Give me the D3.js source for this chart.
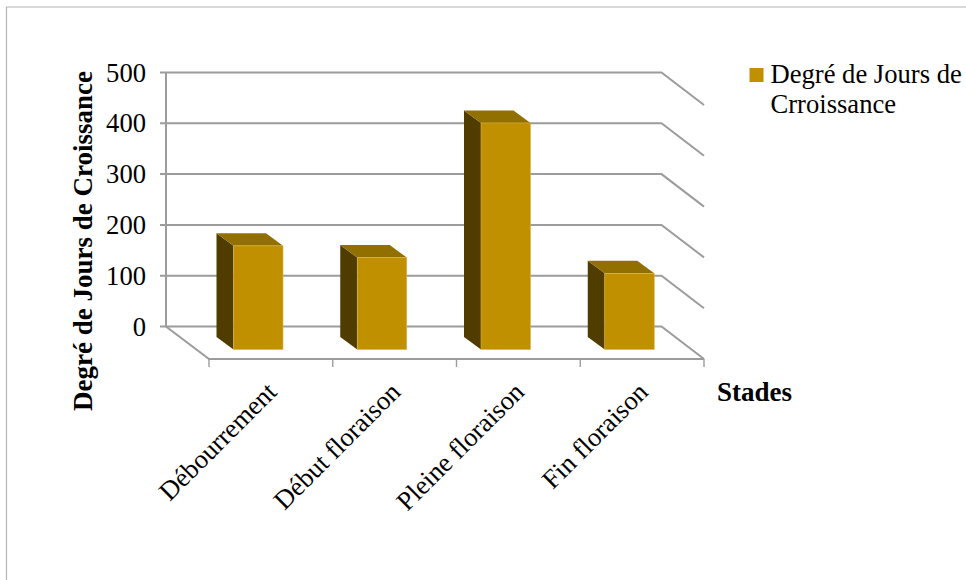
<!DOCTYPE html>
<html><head><meta charset="utf-8">
<script src="https://cdn.jsdelivr.net/npm/d3@7"></script>
<style>html,body{margin:0;padding:0;background:#fff}svg{display:block}text{font-family:"Liberation Serif",serif;fill:#000}</style>
</head><body><svg id="c" width="966" height="580"></svg>
<script>
const categories = ["Débourrement","Début floraison","Pleine floraison","Fin floraison"];
const values = [204, 181, 446, 150];
const yTicks = [0,100,200,300,400,500];
const seriesName = ["Degré de Jours de","Crroissance"];
const yTitle = "Degré de Jours de Croissance";
const xTitle = "Stades";

const svg = d3.select("#c");
const GRID="#9c9c9c", FRONT="#c09000", TOP="#927000", SIDE="#513c00", EDGE="#dcb44a";
const FS=26.6;
const depthX=42.5, depthY=32.5;      // full floor depth
const barDX=17, barDY=12.5;          // bar depth
const baseY=349.5;                   // front edge of bars on screen
const y=d3.scaleLinear().domain([0,500]).range([326.5,72.5]);
const x=d3.scaleBand().domain(categories).range([209,704]).paddingInner(0.6).paddingOuter(0.3).align(0.33);
const h=v=>y(0)-y(v);

// frame
svg.append("path").attr("d","M6.5,580V7H966").attr("fill","none").attr("stroke","#b4b4b4").attr("stroke-width",1.2);

// wall
const gridG=svg.append("g").attr("fill","none").attr("stroke",GRID).attr("stroke-width",2);
gridG.selectAll("path.g").data(yTicks).join("path").attr("class","g")
 .attr("d",d=>`M160,${y(d)}H${x.range()[1]-depthX}L${x.range()[1]},${y(d)+depthY}`);
gridG.append("path").attr("d",`M166,${y(500)}V${y(0)}L209,${y(0)+depthY}H${x.range()[1]}`);
// category ticks
const tickX=categories.map((c,i)=>x.range()[0]+i*x.step()).concat([x.range()[1]]);
gridG.selectAll("path.t").data(tickX).join("path").attr("class","t").attr("stroke-width",1.4)
 .attr("d",d=>`M${d},${y(0)+depthY}v8`);

// bars
const bars=svg.append("g").selectAll("g").data(categories).join("g");
bars.append("path").attr("fill",SIDE).attr("d",(c,i)=>{const a=x(c),t=baseY-h(values[i]);
  return `M${a},${baseY}L${a-barDX},${baseY-barDY}V${t-barDY}L${a},${t}Z`;});
bars.append("path").attr("fill",TOP).attr("d",(c,i)=>{const a=x(c),b=a+x.bandwidth(),t=baseY-h(values[i]);
  return `M${a},${t}L${a-barDX},${t-barDY}H${b-barDX}L${b},${t}Z`;});
bars.append("rect").attr("fill",FRONT).attr("stroke",EDGE).attr("stroke-width",0.6)
  .attr("x",c=>x(c)).attr("width",x.bandwidth())
  .attr("y",(c,i)=>baseY-h(values[i])).attr("height",(c,i)=>h(values[i]));

// y labels
svg.append("g").attr("font-size",FS).attr("text-anchor","end").selectAll("text").data(yTicks).join("text")
 .attr("x",146).attr("y",d=>y(d)+9).text(d=>d);
// x labels
svg.append("g").attr("font-size",FS).attr("text-anchor","end").selectAll("text").data(categories).join("text")
 .attr("transform",c=>`translate(${x(c)+x.bandwidth()/2+20},${393.5}) rotate(-45)`).text(c=>c);
// titles
svg.append("text").attr("font-size",27).attr("font-weight","bold").attr("text-anchor","middle")
 .attr("transform","translate(92,241) rotate(-90)").text(yTitle);
svg.append("text").attr("font-size",27).attr("font-weight","bold").attr("x",717).attr("y",401).text(xTitle);
// legend
svg.append("rect").attr("x",749.5).attr("y",68).attr("width",14).attr("height",14).attr("fill",FRONT);
svg.append("g").attr("font-size",FS).selectAll("text").data(seriesName).join("text")
 .attr("x",770.5).attr("y",(d,i)=>83+i*30).text(d=>d);
</script></body></html>
